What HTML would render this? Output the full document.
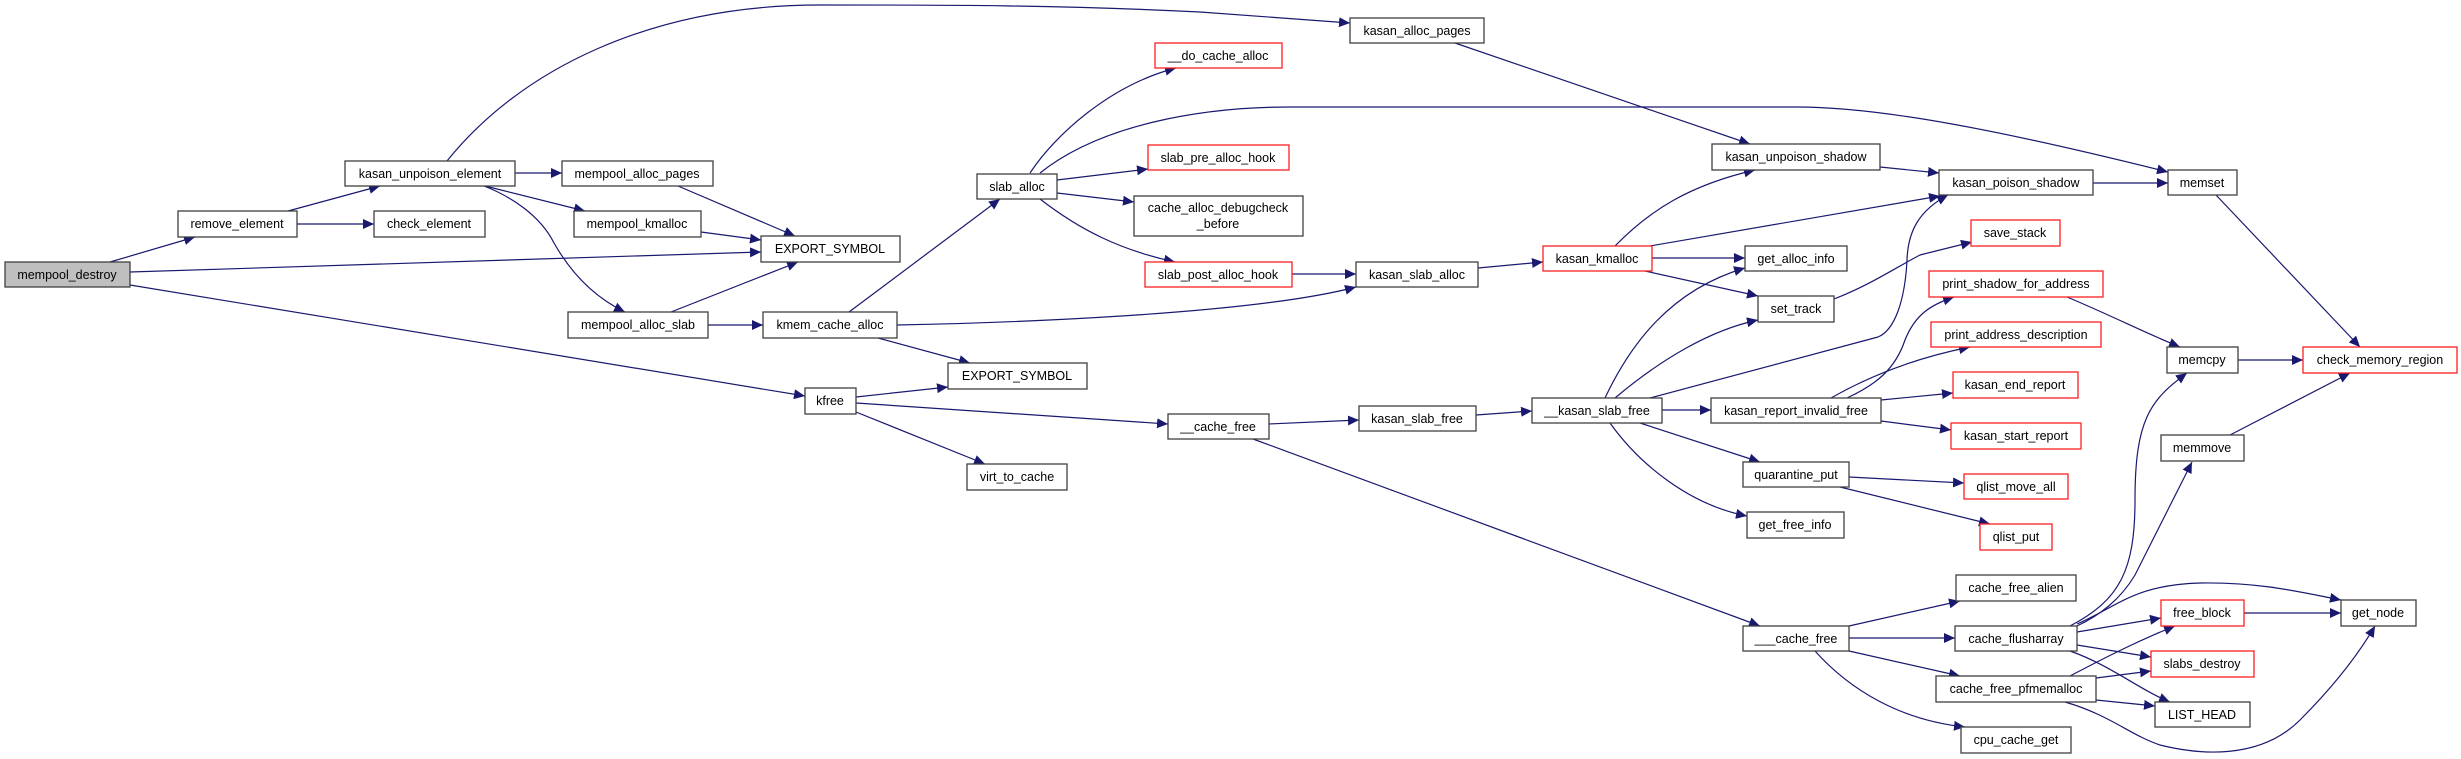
<!DOCTYPE html>
<html><head><meta charset="utf-8"><style>
html,body{margin:0;padding:0;background:#fff;}
svg{display:block;}
text{font-family:"Liberation Sans",Arial,sans-serif;font-size:12.5px;fill:#000;text-anchor:middle;}
.n{fill:#fff;stroke:#404040;stroke-width:1.3;}
.r{fill:#fff;stroke:#ff2020;stroke-width:1.3;}
.g{fill:#bfbfbf;stroke:#404040;stroke-width:1.3;}
.e{fill:none;stroke:#191970;stroke-width:1.2;marker-end:url(#a);}
</style></head><body>
<svg width="2461" height="759" viewBox="0 0 2461 759" xmlns="http://www.w3.org/2000/svg">
<defs><marker id="a" markerUnits="userSpaceOnUse" markerWidth="12" markerHeight="10" refX="11" refY="5" orient="auto"><path d="M0,0 L11,5 L0,10 z" fill="#191970"/></marker></defs>
<g>
<path class="e" d="M110,262 L195,237"/>
<path class="e" d="M130,272 L761,252"/>
<path class="e" d="M130,285 L805,396"/>
<path class="e" d="M288,211 L380,186"/>
<path class="e" d="M297,224 L374,224"/>
<path class="e" d="M447,161 C520,70 650,5 820,5 C950,5 1060,5 1200,12 L1350,23"/>
<path class="e" d="M515,173 L562,173"/>
<path class="e" d="M485,186 L585,211"/>
<path class="e" d="M484,186 C510,196 540,215 554,243 C575,280 600,300 625,312"/>
<path class="e" d="M678,186 L795,236"/>
<path class="e" d="M701,232 L761,240"/>
<path class="e" d="M671,312 L798,262"/>
<path class="e" d="M708,325 L763,325"/>
<path class="e" d="M849,312 L1000,199"/>
<path class="e" d="M897,325 C1000,323 1250,315 1356,287"/>
<path class="e" d="M878,338 L970,363"/>
<path class="e" d="M856,397 L948,387"/>
<path class="e" d="M856,403 L1168,424"/>
<path class="e" d="M856,412 L985,464"/>
<path class="e" d="M1030,173 C1055,135 1110,85 1176,68"/>
<path class="e" d="M1040,173 C1100,125 1200,107 1290,107 L1797,107 C1880,107 2000,130 2168,172"/>
<path class="e" d="M1057,180 L1148,169"/>
<path class="e" d="M1057,193 L1134,202"/>
<path class="e" d="M1040,199 C1080,230 1120,250 1175,262"/>
<path class="e" d="M1292,274 L1356,274"/>
<path class="e" d="M1478,268 L1543,262"/>
<path class="e" d="M1455,43 L1750,144"/>
<path class="e" d="M1615,246 C1650,210 1690,185 1755,170"/>
<path class="e" d="M1650,246 L1940,196"/>
<path class="e" d="M1652,258 L1745,258"/>
<path class="e" d="M1645,271 L1758,296"/>
<path class="e" d="M1880,167 L1939,173"/>
<path class="e" d="M2093,183 L2168,183"/>
<path class="e" d="M2216,195 L2360,347"/>
<path class="e" d="M1834,299 C1870,285 1895,268 1920,255 L1972,242"/>
<path class="e" d="M1605,398 C1630,345 1670,290 1745,268"/>
<path class="e" d="M1615,398 C1660,360 1710,330 1758,320"/>
<path class="e" d="M1650,398 L1878,337 C1895,330 1905,300 1907,260 C1908,230 1920,210 1948,195"/>
<path class="e" d="M1662,410 L1711,410"/>
<path class="e" d="M1640,423 L1760,462"/>
<path class="e" d="M1610,423 C1640,465 1690,505 1747,516"/>
<path class="e" d="M1847,398 C1875,385 1895,370 1905,340 C1915,315 1930,305 1954,297"/>
<path class="e" d="M1831,398 C1880,370 1930,355 1970,347"/>
<path class="e" d="M1881,400 L1953,393"/>
<path class="e" d="M1881,421 L1951,430"/>
<path class="e" d="M2067,297 C2110,315 2150,335 2180,347"/>
<path class="e" d="M2238,360 L2303,360"/>
<path class="e" d="M2230,435 L2350,373"/>
<path class="e" d="M1849,477 L1964,483"/>
<path class="e" d="M1840,487 L1990,524"/>
<path class="e" d="M1253,439 L1760,626"/>
<path class="e" d="M1269,424 L1359,420"/>
<path class="e" d="M1476,415 L1532,411"/>
<path class="e" d="M1849,626 L1960,601"/>
<path class="e" d="M1849,638 L1955,638"/>
<path class="e" d="M1849,651 L1960,676"/>
<path class="e" d="M1815,651 C1850,690 1900,720 1965,727"/>
<path class="e" d="M2070,626 C2120,600 2135,570 2135,500 C2135,420 2150,400 2187,373"/>
<path class="e" d="M2077,626 C2100,615 2120,600 2135,575 L2192,462"/>
<path class="e" d="M2077,624 C2120,605 2135,585 2200,583 C2260,582 2300,592 2341,600"/>
<path class="e" d="M2077,632 L2161,618"/>
<path class="e" d="M2077,645 L2151,657"/>
<path class="e" d="M2070,651 C2110,665 2140,690 2170,702"/>
<path class="e" d="M2244,613 L2341,613"/>
<path class="e" d="M2070,676 C2110,655 2140,640 2175,626"/>
<path class="e" d="M2096,678 L2151,671"/>
<path class="e" d="M2096,700 L2155,706"/>
<path class="e" d="M2065,702 C2110,715 2130,735 2160,745 C2200,755 2260,760 2300,720 C2330,690 2355,660 2375,626"/>
</g>
<g>
<rect class="g" x="5" y="262" width="125" height="25"/><text x="67" y="279">mempool_destroy</text>
<rect class="n" x="178" y="211" width="119" height="26"/><text x="237" y="228">remove_element</text>
<rect class="n" x="374" y="211" width="111" height="26"/><text x="429" y="228">check_element</text>
<rect class="n" x="345" y="161" width="170" height="25"/><text x="430" y="178">kasan_unpoison_element</text>
<rect class="n" x="562" y="161" width="151" height="25"/><text x="637" y="178">mempool_alloc_pages</text>
<rect class="n" x="574" y="211" width="127" height="26"/><text x="637" y="228">mempool_kmalloc</text>
<rect class="n" x="761" y="236" width="139" height="26"/><text x="830" y="253">EXPORT_SYMBOL</text>
<rect class="n" x="568" y="312" width="140" height="26"/><text x="638" y="329">mempool_alloc_slab</text>
<rect class="n" x="763" y="312" width="134" height="26"/><text x="830" y="329">kmem_cache_alloc</text>
<rect class="n" x="805" y="388" width="51" height="26"/><text x="830" y="405">kfree</text>
<rect class="n" x="1350" y="18" width="134" height="25"/><text x="1417" y="35">kasan_alloc_pages</text>
<rect class="r" x="1155" y="43" width="127" height="25"/><text x="1218" y="60">__do_cache_alloc</text>
<rect class="r" x="1148" y="145" width="141" height="25"/><text x="1218" y="162">slab_pre_alloc_hook</text>
<rect class="n" x="977" y="174" width="80" height="25"/><text x="1017" y="191">slab_alloc</text>
<rect class="n" x="1134" y="196" width="169" height="40"/><text x="1218" y="212">cache_alloc_debugcheck</text><text x="1218" y="228">_before</text>
<rect class="r" x="1145" y="262" width="147" height="25"/><text x="1218" y="279">slab_post_alloc_hook</text>
<rect class="n" x="1356" y="262" width="122" height="25"/><text x="1417" y="279">kasan_slab_alloc</text>
<rect class="r" x="1543" y="246" width="109" height="25"/><text x="1597" y="263">kasan_kmalloc</text>
<rect class="n" x="948" y="363" width="139" height="26"/><text x="1017" y="380">EXPORT_SYMBOL</text>
<rect class="n" x="1168" y="414" width="101" height="25"/><text x="1218" y="431">__cache_free</text>
<rect class="n" x="1359" y="406" width="117" height="25"/><text x="1417" y="423">kasan_slab_free</text>
<rect class="n" x="1532" y="398" width="130" height="25"/><text x="1597" y="415">__kasan_slab_free</text>
<rect class="n" x="967" y="464" width="100" height="26"/><text x="1017" y="481">virt_to_cache</text>
<rect class="n" x="1712" y="144" width="168" height="26"/><text x="1796" y="161">kasan_unpoison_shadow</text>
<rect class="n" x="1939" y="170" width="154" height="25"/><text x="2016" y="187">kasan_poison_shadow</text>
<rect class="n" x="2168" y="170" width="69" height="25"/><text x="2202" y="187">memset</text>
<rect class="r" x="1971" y="220" width="89" height="26"/><text x="2015" y="237">save_stack</text>
<rect class="n" x="1745" y="246" width="102" height="25"/><text x="1796" y="263">get_alloc_info</text>
<rect class="n" x="1758" y="296" width="76" height="26"/><text x="1796" y="313">set_track</text>
<rect class="r" x="1929" y="271" width="174" height="26"/><text x="2016" y="288">print_shadow_for_address</text>
<rect class="r" x="1931" y="322" width="170" height="25"/><text x="2016" y="339">print_address_description</text>
<rect class="n" x="2167" y="347" width="71" height="26"/><text x="2202" y="364">memcpy</text>
<rect class="r" x="2303" y="347" width="154" height="26"/><text x="2380" y="364">check_memory_region</text>
<rect class="r" x="1953" y="372" width="125" height="26"/><text x="2015" y="389">kasan_end_report</text>
<rect class="n" x="1711" y="398" width="170" height="25"/><text x="1796" y="415">kasan_report_invalid_free</text>
<rect class="r" x="1951" y="423" width="130" height="26"/><text x="2016" y="440">kasan_start_report</text>
<rect class="n" x="2161" y="435" width="83" height="26"/><text x="2202" y="452">memmove</text>
<rect class="n" x="1743" y="462" width="106" height="25"/><text x="1796" y="479">quarantine_put</text>
<rect class="r" x="1964" y="474" width="104" height="25"/><text x="2016" y="491">qlist_move_all</text>
<rect class="n" x="1747" y="512" width="97" height="26"/><text x="1795" y="529">get_free_info</text>
<rect class="r" x="1980" y="524" width="72" height="26"/><text x="2016" y="541">qlist_put</text>
<rect class="n" x="1956" y="575" width="120" height="26"/><text x="2016" y="592">cache_free_alien</text>
<rect class="n" x="1743" y="626" width="106" height="25"/><text x="1796" y="643">___cache_free</text>
<rect class="n" x="1955" y="626" width="122" height="25"/><text x="2016" y="643">cache_flusharray</text>
<rect class="r" x="2161" y="600" width="83" height="26"/><text x="2202" y="617">free_block</text>
<rect class="n" x="2341" y="600" width="75" height="26"/><text x="2378" y="617">get_node</text>
<rect class="r" x="2151" y="651" width="103" height="26"/><text x="2202" y="668">slabs_destroy</text>
<rect class="n" x="1936" y="676" width="160" height="26"/><text x="2016" y="693">cache_free_pfmemalloc</text>
<rect class="n" x="2155" y="702" width="95" height="25"/><text x="2202" y="719">LIST_HEAD</text>
<rect class="n" x="1961" y="727" width="110" height="26"/><text x="2016" y="744">cpu_cache_get</text>
</g>
</svg>
</body></html>
